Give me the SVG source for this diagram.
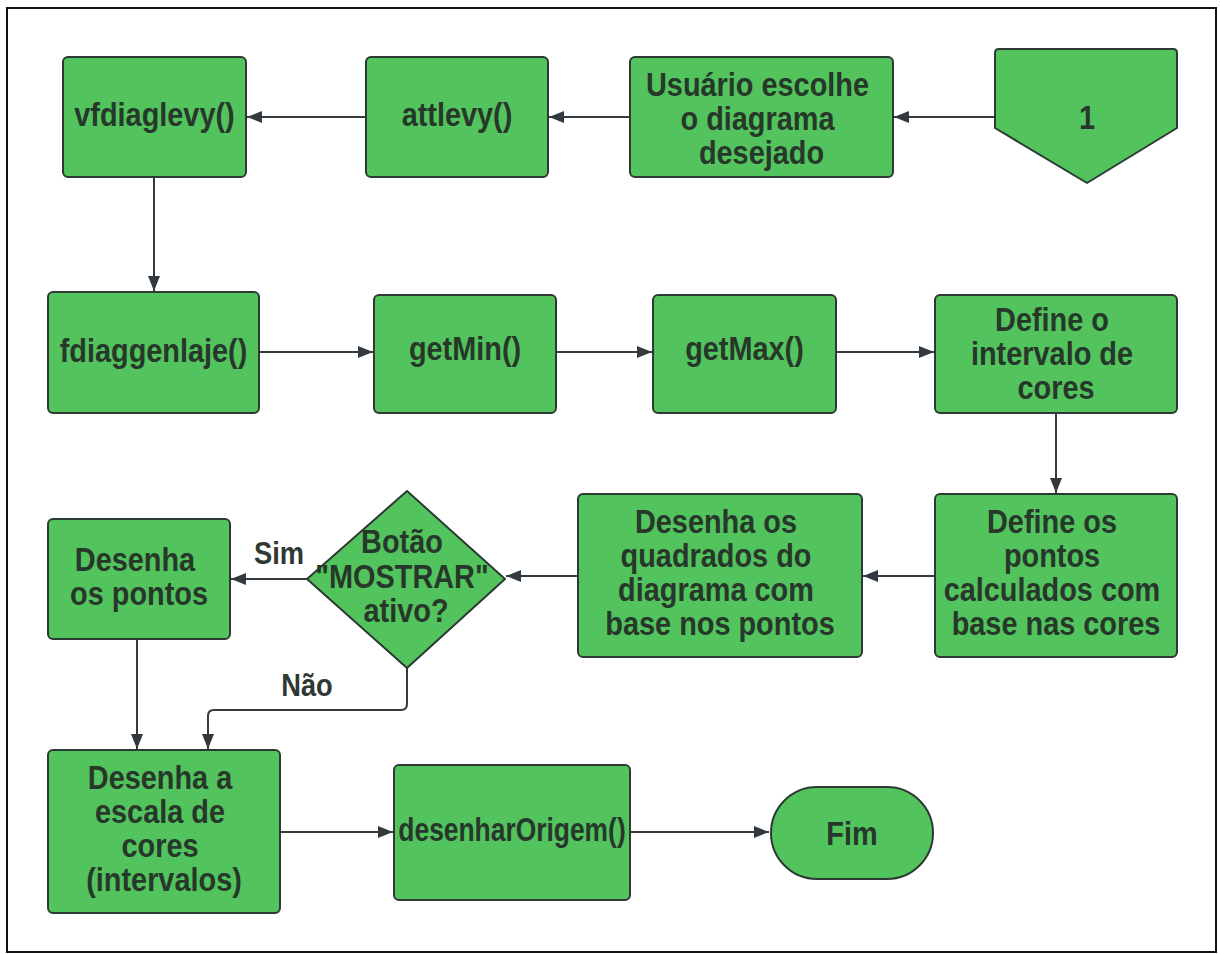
<svg xmlns="http://www.w3.org/2000/svg" width="1220" height="954" viewBox="0 0 1220 954">
  <defs>
    <style>
      .frame { fill: #ffffff; stroke: #111111; stroke-width: 2; }
      .box { fill: #52c35d; stroke: #2c3a33; stroke-width: 2; stroke-linejoin: round; }
      .lbl { font-family: "Liberation Sans", Arial, sans-serif; font-weight: bold; font-size: 33px; fill: #27382b; text-anchor: middle; }
      .tag { font-family: "Liberation Sans", Arial, sans-serif; font-weight: bold; font-size: 31px; fill: #2f3833; text-anchor: middle; }
      .edge { fill: none; stroke: #333a3f; stroke-width: 2; }
    </style>
    <marker id="arrow" markerUnits="userSpaceOnUse" markerWidth="15" markerHeight="12" refX="15" refY="6" orient="auto">
      <path d="M0,0 L15,6 L0,12 z" fill="#333a3f"/>
    </marker>
  </defs>

  <rect x="0" y="0" width="1220" height="954" fill="#ffffff"/>
  <rect class="frame" x="7" y="8" width="1209" height="944"/>

  <!-- connectors -->
  <g id="connectors">
    <path class="edge" marker-end="url(#arrow)" d="M995,117 H894"/>
    <path class="edge" marker-end="url(#arrow)" d="M630,117 H549"/>
    <path class="edge" marker-end="url(#arrow)" d="M366,117 H247"/>
    <path class="edge" marker-end="url(#arrow)" d="M154,177 V291"/>
    <path class="edge" marker-end="url(#arrow)" d="M259,352 H373"/>
    <path class="edge" marker-end="url(#arrow)" d="M556,352 H652"/>
    <path class="edge" marker-end="url(#arrow)" d="M836,352 H934"/>
    <path class="edge" marker-end="url(#arrow)" d="M1056,413 V493"/>
    <path class="edge" marker-end="url(#arrow)" d="M935,576 H863"/>
    <path class="edge" marker-end="url(#arrow)" d="M578,576 H506"/>
    <path class="edge" marker-end="url(#arrow)" d="M307,579 H231"/>
    <path class="edge" marker-end="url(#arrow)" d="M137,639 V749"/>
    <path class="edge" marker-end="url(#arrow)" d="M407,668 V704 Q407,710 401,710 H214 Q208,710 208,716 V749"/>
    <path class="edge" marker-end="url(#arrow)" d="M280,832 H393"/>
    <path class="edge" marker-end="url(#arrow)" d="M630,832 H769"/>
    <text class="tag" transform="matrix(0.88 0 0 1 279 0)" x="0" y="564">Sim</text>
    <text class="tag" transform="matrix(0.88 0 0 1 307 0)" x="0" y="696">Não</text>
  </g>

  <!-- off-page reference -->
  <g id="ref-1">
    <path class="box" d="M999,49 H1173 Q1177,49 1177,53 V128 L1087,183 L995,128 V53 Q995,49 999,49 z"/>
    <text class="lbl" transform="matrix(0.88 0 0 1 1087 0)" x="0" y="129">1</text>
  </g>

  <g id="escolha">
    <rect class="box" x="630" y="57" width="263" height="120" rx="5"/>
    <text class="lbl" transform="matrix(0.875 0 0 1 761.5 0)">
      <tspan x="0" y="96">Usuário escolhe</tspan>
      <tspan x="0" y="130">o diagrama</tspan>
      <tspan x="0" y="164">desejado</tspan>
    </text>
  </g>

  <g id="attlevy">
    <rect class="box" x="366" y="57" width="182" height="120" rx="5"/>
    <text class="lbl" transform="matrix(0.875 0 0 1 457 0)" x="0" y="126">attlevy()</text>
  </g>

  <g id="vfdiaglevy">
    <rect class="box" x="63" y="57" width="183" height="120" rx="5"/>
    <text class="lbl" transform="matrix(0.875 0 0 1 154.5 0)" x="0" y="126">vfdiaglevy()</text>
  </g>

  <g id="fdiaggenlaje">
    <rect class="box" x="48" y="292" width="211" height="121" rx="5"/>
    <text class="lbl" transform="matrix(0.875 0 0 1 153.5 0)" x="0" y="362">fdiaggenlaje()</text>
  </g>

  <g id="getMin">
    <rect class="box" x="374" y="295" width="182" height="118" rx="5"/>
    <text class="lbl" transform="matrix(0.875 0 0 1 465 0)" x="0" y="360">getMin()</text>
  </g>

  <g id="getMax">
    <rect class="box" x="653" y="295" width="183" height="118" rx="5"/>
    <text class="lbl" transform="matrix(0.875 0 0 1 744.5 0)" x="0" y="360">getMax()</text>
  </g>

  <g id="intervalo">
    <rect class="box" x="935" y="295" width="242" height="118" rx="5"/>
    <text class="lbl" transform="matrix(0.875 0 0 1 1056 0)">
      <tspan x="0" y="331">Define o</tspan>
      <tspan x="0" y="365">intervalo de</tspan>
      <tspan x="0" y="399">cores</tspan>
    </text>
  </g>

  <g id="pontos-calc">
    <rect class="box" x="935" y="494" width="242" height="163" rx="5"/>
    <text class="lbl" transform="matrix(0.875 0 0 1 1056 0)">
      <tspan x="0" y="533">Define os</tspan>
      <tspan x="0" y="567">pontos</tspan>
      <tspan x="0" y="601">calculados com</tspan>
      <tspan x="0" y="635">base nas cores</tspan>
    </text>
  </g>

  <g id="quadrados">
    <rect class="box" x="578" y="494" width="284" height="163" rx="5"/>
    <text class="lbl" transform="matrix(0.875 0 0 1 720 0)">
      <tspan x="0" y="533">Desenha os</tspan>
      <tspan x="0" y="567">quadrados do</tspan>
      <tspan x="0" y="601">diagrama com</tspan>
      <tspan x="0" y="635">base nos pontos</tspan>
    </text>
  </g>

  <g id="mostrar">
    <path class="box" d="M407,491 L505,579 L407,668 L307,579 z"/>
    <text class="lbl" transform="matrix(0.875 0 0 1 406 0)">
      <tspan x="0" y="553">Botão</tspan>
      <tspan x="0" y="588">"MOSTRAR"</tspan>
      <tspan x="0" y="622">ativo?</tspan>
    </text>
  </g>

  <g id="desenha-pontos">
    <rect class="box" x="48" y="519" width="182" height="120" rx="5"/>
    <text class="lbl" transform="matrix(0.875 0 0 1 139 0)">
      <tspan x="0" y="571">Desenha</tspan>
      <tspan x="0" y="605">os pontos</tspan>
    </text>
  </g>

  <g id="escala">
    <rect class="box" x="48" y="750" width="232" height="163" rx="5"/>
    <text class="lbl" transform="matrix(0.875 0 0 1 164 0)">
      <tspan x="0" y="789">Desenha a</tspan>
      <tspan x="0" y="823">escala de</tspan>
      <tspan x="0" y="857">cores</tspan>
      <tspan x="0" y="891">(intervalos)</tspan>
    </text>
  </g>

  <g id="desenharOrigem">
    <rect class="box" x="394" y="765" width="236" height="135" rx="5"/>
    <text class="lbl" transform="matrix(0.8 0 0 1 512 0)" x="0" y="841">desenharOrigem()</text>
  </g>

  <g id="fim">
    <rect class="box" x="771" y="787" width="162" height="92" rx="46"/>
    <text class="lbl" transform="matrix(0.875 0 0 1 852 0)" x="0" y="845">Fim</text>
  </g>
</svg>
